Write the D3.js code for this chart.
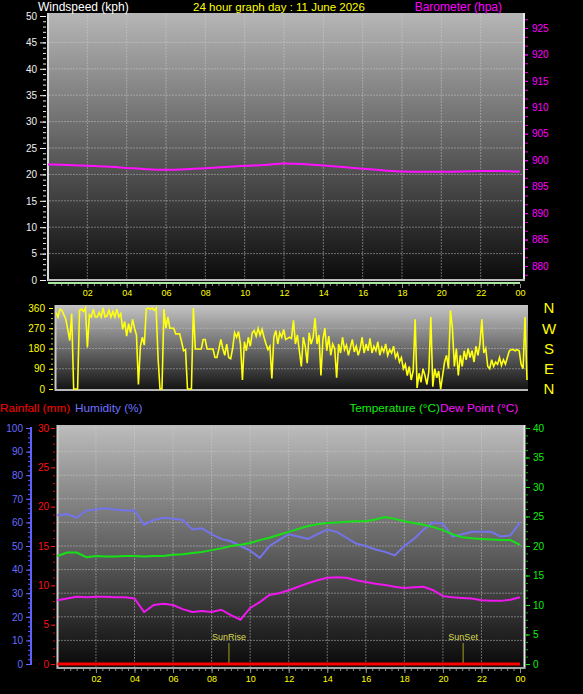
<!DOCTYPE html>
<html>
<head>
<meta charset="utf-8">
<script src="https://cdn.jsdelivr.net/npm/d3@7"></script>
<style>
body { margin: 0; background: #000; }
svg { display: block; font-family: "Liberation Sans", Arial, sans-serif; }
</style>
</head>
<body>
<svg id="drawing_region"></svg>
<script>
// ---- data ----
const hourTicks = [2, 4, 6, 8, 10, 12, 14, 16, 18, 20, 22, 24];
const hourLabels = ["02", "04", "06", "08", "10", "12", "14", "16", "18", "20", "22", "00"];

// barometer, hourly (hpa)
const baroHours = [0,1,2,3,4,5,6,7,8,9,10,11,12,13,14,15,16,17,18,19,20,21,22,23,24];
const baroValues = [899.2,899.1,898.95,898.8,898.55,898.3,898.2,898.3,898.5,898.7,898.95,899.1,899.4,899.3,899.0,898.7,898.4,898.1,897.85,897.8,897.8,897.85,897.95,897.95,897.85];

// windspeed (kph) - flat zero all day
const windHours = [0, 24];
const windValues = [0, 0];

// wind direction, one reading every 6 minutes (degrees)
const windDir = [
  340,320,355,350,330,310,265,215,335,0, 0,0,350,355,345,360,185,330,320,355,
  320,320,340,320,360,320,325,350,320,345, 320,355,320,335,265,300,235,290,250,310,
  270,240,20,190,230,195,355,360,355,360, 350,360,140,0,0,355,270,320,270,270,
  270,245,245,245,210,170,175,0,0,0, 360,178,178,178,178,220,220,178,178,178,
  178,140,140,178,220,180,150,200,140,135, 180,250,230,255,200,40,210,170,230,190,
  250,260,235,270,240,265,230,200,175,190, 47,230,260,200,250,230,265,220,225,230,
  225,305,200,240,170,100,230,190,115,250, 200,230,315,200,240,60,220,270,170,235,
  150,200,180,50,200,160,230,175,195,150, 185,220,165,190,150,180,230,160,200,170,
  225,160,190,170,210,150,185,165,200,150, 175,160,190,140,160,120,140,90,110,60,
  100,40,80,310,5,70,30,90,60,20, 80,320,10,90,50,80,0,60,120,150,
  90,350,270,100,180,60,150,100,170,130, 180,140,170,120,190,150,200,310,160,180,
  100,90,130,100,120,110,140,105,130,110, 140,170,175,175,170,175,170,110,90,320,
  40
];

// bottom chart, every half hour
const bHours = [0,0.5,1,1.5,2,2.5,3,3.5,4,4.5,5,5.5,6,6.5,7,7.5,8,8.5,9,9.5,10,10.5,11,11.5,12,12.5,13,13.5,14,14.5,15,15.5,16,16.5,17,17.5,18,18.5,19,19.5,20,20.5,21,21.5,22,22.5,23,23.5,24];
const humidity = [63,63.5,62,65,65.5,66,65.5,65,65,59,61,62,61.5,61,57,57.5,55,53,52,50,48,45,50,52.5,55,54,53,55,57,56,53.5,51,50,48.5,47.5,46,50,53,57,60,59.5,54,55,56,56,56,54,54.5,60];
const temperature = [18.3,18.9,18.9,18.1,18.3,18.2,18.2,18.3,18.3,18.2,18.3,18.3,18.5,18.6,18.8,19,19.3,19.6,20,20.2,20.5,21,21.4,21.9,22.4,22.9,23.4,23.7,23.9,24,24.1,24.2,24.2,24.5,24.9,24.6,24.2,23.9,23.6,23.2,22.7,22,21.5,21.3,21.2,21.1,21,21,20.2];
const dewPoint = [10.8,11.1,11.4,11.3,11.4,11.4,11.3,11.3,11.1,8.8,10,10.2,10,9.3,8.8,9,8.8,9.2,8.3,7.5,9.5,10.5,11.7,12,12.5,13.1,13.7,14.2,14.6,14.7,14.6,14.2,13.9,13.6,13.4,13.1,12.9,13,13.1,12.5,11.5,11.3,11.2,11.1,10.8,10.7,10.7,10.9,11.3];
const rainHours = [0, 24];
const rainfall = [0, 0];

const sunEvents = [{label: "SunRise", hour: 8.9}, {label: "SunSet", hour: 21.05}];
const compass = [{label: "N", deg: 360}, {label: "W", deg: 270}, {label: "S", deg: 180}, {label: "E", deg: 90}, {label: "N", deg: 0}];

// ---- drawing ----
const svg = d3.select('#drawing_region')
              .attr('width', 583)
              .attr('height', 694);

const defs = svg.append('defs');
function gradient(id, top, bottom) {
    const g = defs.append('linearGradient').attr('id', id)
                  .attr('x1', 0).attr('y1', 0).attr('x2', 0).attr('y2', 1);
    g.append('stop').attr('offset', '0%').attr('stop-color', top);
    g.append('stop').attr('offset', '100%').attr('stop-color', bottom);
}
gradient('gTop', '#b6b6b6', '#0a0a0a');
gradient('gMid', '#c4c4c4', '#111111');
gradient('gBot', '#bcbcbc', '#080808');

const gridStyle = g => g.attr('stroke', '#d0d0d0').attr('stroke-opacity', 0.45)
                        .attr('stroke-dasharray', '2,1').attr('stroke-width', 1);

function styleAxis(g, color) {
    g.select('.domain').remove();
    g.selectAll('line').attr('stroke', color);
    g.selectAll('text').attr('fill', color).style('font-size', '10px');
}

function header(x, y, anchor, color, size, text) {
    svg.append('text').attr('x', x).attr('y', y).attr('text-anchor', anchor)
       .attr('fill', color).style('font-size', size + 'px').text(text);
}

// ======== top panel: windspeed + barometer ========
const xTop = d3.scaleLinear().domain([0, 24]).range([48, 520]);
const windY = d3.scaleLinear().domain([0, 50]).range([280, 16]);
const baroY = d3.scaleLinear().domain([880, 925]).range([266, 28]);

svg.append('rect').attr('x', 47).attr('y', 13).attr('width', 478).attr('height', 269)
   .attr('fill', 'url(#gTop)');

const topGrid = svg.append('g').call(gridStyle);
topGrid.selectAll('.h').data(d3.range(5, 50, 5)).join('line')
       .attr('x1', 49).attr('x2', 523).attr('y1', d => windY(d)).attr('y2', d => windY(d));
topGrid.selectAll('.v').data(hourTicks.slice(0, -1)).join('line')
       .attr('y1', 14).attr('y2', 279).attr('x1', d => xTop(d)).attr('x2', d => xTop(d));

// borders
svg.append('line').attr('x1', 48).attr('x2', 48).attr('y1', 13).attr('y2', 281).attr('stroke', '#d8d8d8').attr('stroke-width', 2);
svg.append('line').attr('x1', 524).attr('x2', 524).attr('y1', 13).attr('y2', 281).attr('stroke', '#e8e8e8').attr('stroke-width', 2);
svg.append('line').attr('x1', 48).attr('x2', 525).attr('y1', 280).attr('y2', 280).attr('stroke', '#bdbdbd').attr('stroke-width', 2);

// windspeed line (sits on the bottom edge)
svg.append('path').datum(windHours.map((h, i) => [h, windValues[i]]))
   .attr('fill', 'none').attr('stroke', '#a8e8a0').attr('stroke-width', 2)
   .attr('transform', 'translate(0,3)')
   .attr('d', d3.line().x(d => xTop(d[0])).y(d => windY(d[1])));

// barometer line
svg.append('path').datum(baroHours.map((h, i) => [h, baroValues[i]]))
   .attr('fill', 'none').attr('stroke', '#ff10ff').attr('stroke-width', 2)
   .attr('d', d3.line().curve(d3.curveMonotoneX).x(d => xTop(d[0])).y(d => baroY(d[1])));

// left axis (wind)
svg.append('g').attr('transform', 'translate(46,0)')
   .call(d3.axisLeft(windY).tickValues(d3.range(0, 51, 1)).tickSize(3).tickFormat(''))
   .call(g => styleAxis(g, '#e8e8e8'));
svg.append('g').attr('transform', 'translate(46,0)')
   .call(d3.axisLeft(windY).tickValues(d3.range(0, 51, 5)).tickSize(6).tickPadding(3))
   .call(g => styleAxis(g, '#f0f0f0'));

// right axis (barometer)
svg.append('g').attr('transform', 'translate(525,0)')
   .call(d3.axisRight(baroY).tickValues(d3.range(875, 928, 5 / 3)).tickSize(3).tickFormat(''))
   .call(g => styleAxis(g, '#e000e0'))
   .call(g => g.selectAll('.tick').filter(d => baroY(d) < 15 || baroY(d) > 281).remove());
svg.append('g').attr('transform', 'translate(525,0)')
   .call(d3.axisRight(baroY).tickValues(d3.range(880, 926, 5)).tickSize(3).tickPadding(4))
   .call(g => styleAxis(g, '#ff00ff'));

// hour axis under top panel
svg.append('g').attr('transform', 'translate(0,284)')
   .call(d3.axisBottom(xTop).tickValues(d3.range(1 / 3, 24, 1 / 3)).tickSize(2).tickFormat(''))
   .call(g => styleAxis(g, '#909090'));
svg.append('g').attr('transform', 'translate(0,284)')
   .call(d3.axisBottom(xTop).tickValues(hourTicks).tickSize(4).tickPadding(2)
           .tickFormat((d, i) => hourLabels[i]))
   .call(g => styleAxis(g, '#ffff00'))
   .call(g => g.selectAll('line').attr('stroke', '#909090'))
   .call(g => g.selectAll('text').style('font-size', '9px'));

// headers
header(38, 11, 'start', '#ffffff', 12, 'Windspeed (kph)');
header(279, 11, 'middle', '#ffff00', 11.5, '24 hour graph day : 11 June 2026');
header(502, 11, 'end', '#ff00ff', 12, 'Barometer (hpa)');

// ======== middle panel: wind direction ========
const xMid = d3.scaleLinear().domain([0, 24]).range([56, 527]);
const dirY = d3.scaleLinear().domain([0, 360]).range([389, 308]);

svg.append('rect').attr('x', 55).attr('y', 305).attr('width', 473).attr('height', 86)
   .attr('fill', 'url(#gMid)');
const midGrid = svg.append('g').call(gridStyle);
midGrid.selectAll('line').data([90, 180, 270]).join('line')
       .attr('x1', 56).attr('x2', 527).attr('y1', d => dirY(d)).attr('y2', d => dirY(d));
svg.append('line').attr('x1', 55.5).attr('x2', 55.5).attr('y1', 305).attr('y2', 391).attr('stroke', '#c8c8c8').attr('stroke-width', 2);
svg.append('line').attr('x1', 55).attr('x2', 528).attr('y1', 390).attr('y2', 390).attr('stroke', '#b8b8b8').attr('stroke-width', 2);

svg.append('path').datum(windDir)
   .attr('fill', 'none').attr('stroke', '#ffff10').attr('stroke-width', 1.6)
   .attr('d', d3.line().x((d, i) => xMid(i * 0.1)).y(d => dirY(d)));

svg.append('g').attr('transform', 'translate(53,0)')
   .call(d3.axisLeft(dirY).tickValues(d3.range(0, 361, 22.5)).tickSize(2).tickFormat(''))
   .call(g => styleAxis(g, '#d0d000'));
svg.append('g').attr('transform', 'translate(53,0)')
   .call(d3.axisLeft(dirY).tickValues([0, 90, 180, 270, 360]).tickSize(4).tickPadding(4))
   .call(g => styleAxis(g, '#ffff00'));

svg.append('g').selectAll('text').data(compass).join('text')
   .attr('x', 549).attr('y', d => dirY(d.deg)).attr('dy', '0.36em')
   .attr('text-anchor', 'middle').attr('fill', '#ffff00').style('font-size', '15px')
   .text(d => d.label);

// ======== bottom panel: rain, humidity, temperature, dew point ========
const xBot = d3.scaleLinear().domain([0, 24]).range([57.4, 520]);
const humY = d3.scaleLinear().domain([0, 100]).range([664, 428]);
const rainY = d3.scaleLinear().domain([0, 30]).range([664, 428]);
const tempY = d3.scaleLinear().domain([0, 40]).range([664, 428]);

svg.append('rect').attr('x', 57).attr('y', 425).attr('width', 468).attr('height', 244)
   .attr('fill', 'url(#gBot)');
const botGrid = svg.append('g').call(gridStyle);
botGrid.selectAll('.h').data(d3.range(10, 101, 10)).join('line')
       .attr('x1', 58).attr('x2', 524).attr('y1', d => humY(d)).attr('y2', d => humY(d));
botGrid.selectAll('.v').data(hourTicks.slice(0, -1)).join('line')
       .attr('y1', 426).attr('y2', 667).attr('x1', d => xBot(d)).attr('x2', d => xBot(d));
svg.append('line').attr('x1', 57.5).attr('x2', 57.5).attr('y1', 425).attr('y2', 669).attr('stroke', '#d0d0d0').attr('stroke-width', 2);
svg.append('line').attr('x1', 524.5).attr('x2', 524.5).attr('y1', 425).attr('y2', 669).attr('stroke', '#e8e8e8').attr('stroke-width', 2);
svg.append('line').attr('x1', 57).attr('x2', 525).attr('y1', 668).attr('y2', 668).attr('stroke', '#a8a8a8').attr('stroke-width', 2);

// sunrise / sunset
const sun = svg.append('g').selectAll('g').data(sunEvents).join('g');
sun.append('line').attr('x1', d => xBot(d.hour)).attr('x2', d => xBot(d.hour))
   .attr('y1', 643).attr('y2', 664).attr('stroke', '#a0a020').attr('stroke-width', 1);
sun.append('text').attr('x', d => xBot(d.hour)).attr('y', 640).attr('text-anchor', 'middle')
   .attr('fill', '#d8d850').style('font-size', '9px').text(d => d.label);

function series(hours, values, yscale, color, width) {
    svg.append('path').datum(hours.map((h, i) => [h, values[i]]))
       .attr('fill', 'none').attr('stroke', color).attr('stroke-width', width)
       .attr('d', d3.line().x(d => xBot(d[0])).y(d => yscale(d[1])));
}
series(bHours, humidity, humY, '#7474ea', 2);
series(bHours, temperature, tempY, '#18e018', 2);
series(bHours, dewPoint, tempY, '#ee18ee', 2);
series(rainHours, rainfall, rainY, '#ff0000', 3);

// humidity axis (far left)
svg.append('line').attr('x1', 31).attr('x2', 31).attr('y1', humY(100) - 1).attr('y2', humY(0) + 1)
   .attr('stroke', '#6060ff').attr('stroke-width', 2);
svg.append('g').attr('transform', 'translate(31,0)')
   .call(d3.axisLeft(humY).tickValues(d3.range(0, 101, 2)).tickSize(3).tickFormat(''))
   .call(g => styleAxis(g, '#6060ff'));
svg.append('g').attr('transform', 'translate(31,0)')
   .call(d3.axisLeft(humY).tickValues(d3.range(0, 101, 10)).tickSize(5).tickPadding(3))
   .call(g => styleAxis(g, '#6a6aff'));

// rainfall axis
svg.append('g').attr('transform', 'translate(55,0)')
   .call(d3.axisLeft(rainY).tickValues(d3.range(0, 31, 1)).tickSize(2).tickFormat(''))
   .call(g => styleAxis(g, '#e00000'));
svg.append('g').attr('transform', 'translate(55,0)')
   .call(d3.axisLeft(rainY).tickValues(d3.range(0, 31, 5)).tickSize(4).tickPadding(2))
   .call(g => styleAxis(g, '#ff1010'));

// temperature axis (right)
svg.append('g').attr('transform', 'translate(526,0)')
   .call(d3.axisRight(tempY).tickValues(d3.range(0, 41, 1.25)).tickSize(2).tickFormat(''))
   .call(g => styleAxis(g, '#00c000'));
svg.append('g').attr('transform', 'translate(526,0)')
   .call(d3.axisRight(tempY).tickValues(d3.range(0, 41, 5)).tickSize(4).tickPadding(3))
   .call(g => styleAxis(g, '#10ee10'));

// hour axis under bottom panel
svg.append('g').attr('transform', 'translate(0,669)')
   .call(d3.axisBottom(xBot).tickValues(d3.range(1 / 3, 24, 1 / 3)).tickSize(2).tickFormat(''))
   .call(g => styleAxis(g, '#909090'));
svg.append('g').attr('transform', 'translate(0,669)')
   .call(d3.axisBottom(xBot).tickValues(hourTicks).tickSize(4).tickPadding(3)
           .tickFormat((d, i) => hourLabels[i]))
   .call(g => styleAxis(g, '#ffff00'))
   .call(g => g.selectAll('line').attr('stroke', '#909090'))
   .call(g => g.selectAll('text').style('font-size', '9px'));

// headers of bottom panel
header(0, 412, 'start', '#ff0000', 11.8, 'Rainfall (mm)');
header(75, 412, 'start', '#7070ff', 11.8, 'Humidity (%)');
header(440, 412, 'end', '#10ee10', 11.8, 'Temperature (°C)');
header(440, 412, 'start', '#ff10ff', 11.8, 'Dew Point (°C)');
</script>
</body>
</html>
